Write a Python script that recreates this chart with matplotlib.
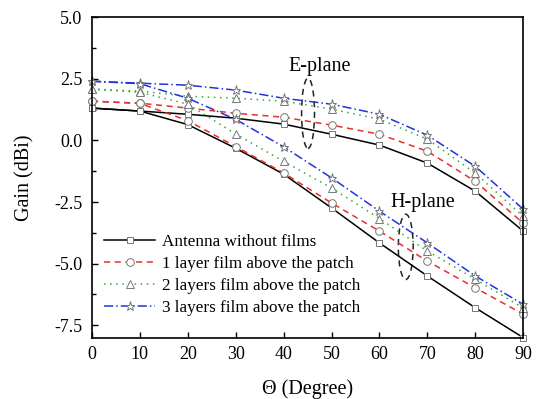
import matplotlib
matplotlib.use("Agg")
import matplotlib.pyplot as plt
from matplotlib.patches import Ellipse
from matplotlib.ticker import MultipleLocator

plt.rcParams['font.family'] = ['Liberation Serif', 'DejaVu Serif']

theta = [0, 10, 20, 30, 40, 50, 60, 70, 80, 90]

# E-plane gain (dBi)
e_none = [1.31, 1.19, 1.06, 0.90, 0.66, 0.25, -0.19, -0.92, -2.06, -3.68]
e_one = [1.59, 1.51, 1.31, 1.10, 0.94, 0.62, 0.25, -0.44, -1.66, -3.36]
e_two = [2.08, 2.00, 1.79, 1.71, 1.59, 1.27, 0.86, 0.05, -1.33, -3.08]
e_three = [2.40, 2.32, 2.24, 2.04, 1.71, 1.47, 1.06, 0.21, -1.05, -2.79]

# H-plane gain (dBi)
h_none = [1.31, 1.19, 0.64, -0.32, -1.37, -2.74, -4.16, -5.50, -6.79, -8.00]
h_one = [1.59, 1.50, 0.80, -0.25, -1.32, -2.54, -3.68, -4.90, -5.98, -7.05]
h_two = [2.08, 1.95, 1.47, 0.26, -0.85, -1.93, -3.17, -4.49, -5.63, -6.80]
h_three = [2.40, 2.30, 1.71, 0.85, -0.26, -1.52, -2.87, -4.16, -5.50, -6.65]

labels = ["Antenna without films", "1 layer film above the patch",
          "2 layers film above the patch", "3 layers film above the patch"]
colors = ["black", "#e8302c", "#33aa33", "#2233dd"]
styles = ["-", (0, (4, 3)), (0, (1, 3)), (0, (6, 2, 1, 2))]
markers = ["s", "o", "^", "*"]
msizes = [5, 5.5, 5.5, 6.5]

fig = plt.figure(figsize=(5.41, 3.99), dpi=100)
ax = fig.add_axes([0.170, 0.154, 0.797, 0.803])

e_sets = [e_none, e_one, e_two, e_three]
h_sets = [h_none, h_one, h_two, h_three]
for i in range(4):
    kw = dict(color=colors[i], linestyle=styles[i], linewidth=1.1,
              marker=markers[i], markersize=msizes[i], markerfacecolor="white",
              markeredgecolor="#777777", markeredgewidth=0.7, clip_on=False)
    ax.plot(theta, e_sets[i], label=labels[i], **kw)
    ax.plot(theta, h_sets[i], **kw)

ax.set_xlim(0, 90)
ax.set_ylim(-8, 5)
ax.xaxis.set_major_locator(MultipleLocator(10))
ax.yaxis.set_major_locator(MultipleLocator(2.5))
ax.yaxis.set_minor_locator(MultipleLocator(1.25))
ax.yaxis.set_major_formatter(matplotlib.ticker.FormatStrFormatter("%.1f"))
ax.tick_params(direction="in", length=4, width=1, labelsize=13,
               top=False, right=False)
ax.tick_params(axis="x", pad=6)
ax.tick_params(axis="y", pad=7)
ax.tick_params(which="minor", direction="in", length=3, width=1)
for sp in ax.spines.values():
    sp.set_linewidth(1.2)

ax.set_xlabel("Θ (Degree)", fontsize=14.5, labelpad=12)
ax.set_ylabel("Gain (dBi)", fontsize=14.5, labelpad=14)

ax.text(47.6, 3.0, "E-plane", fontsize=14.5, ha="center", va="center")
ax.add_patch(Ellipse((45.1, 1.10), 2.7, 2.85, fill=False, linestyle=(0, (4, 3)),
                     edgecolor="#222222", linewidth=1.1))
ax.text(69.1, -2.54, "H-plane", fontsize=14.5, ha="center", va="center")
ax.add_patch(Ellipse((65.5, -4.32), 3.1, 2.65, fill=False, linestyle=(0, (4, 3)),
                     edgecolor="#222222", linewidth=1.1))

ax.legend(loc="lower left", bbox_to_anchor=(0.0, 0.03), frameon=False,
          fontsize=12.3, handlelength=3.0, handletextpad=0.4,
          labelspacing=0.35, borderaxespad=0.3)

fig.savefig("out.png", dpi=100)
